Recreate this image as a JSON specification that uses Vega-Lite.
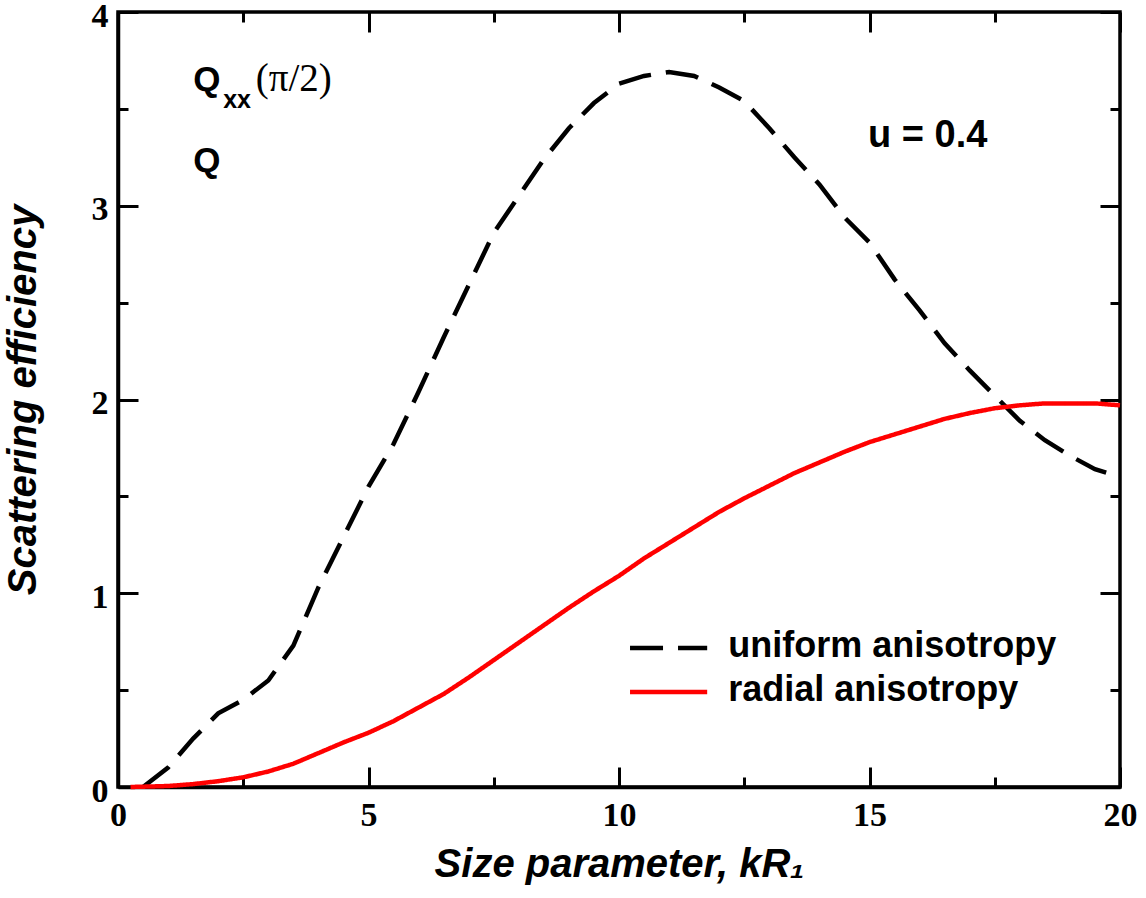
{
  "$schema": "https://vega.github.io/schema/vega-lite/v6.json",
  "width": 1002,
  "height": 775,
  "autosize": "none",
  "padding": {"left": 118, "top": 12, "right": 26, "bottom": 111},
  "background": "white",
  "config": {
    "view": {"stroke": "black", "strokeWidth": 3.5},
    "axis": {
      "grid": false,
      "domainColor": "black",
      "domainWidth": 3.5,
      "tickColor": "black",
      "tickWidth": 3,
      "labelFont": "Liberation Serif",
      "labelFontWeight": "bold",
      "labelFontSize": 34,
      "labelColor": "black",
      "titleFont": "Liberation Sans",
      "titleFontWeight": "bold",
      "titleFontStyle": "italic",
      "titleFontSize": 40,
      "titleColor": "black"
    }
  },
  "datasets": {
    "curves": [
      {"kR": 0.5, "Q": 0.0, "series": "uniform anisotropy"},
      {"kR": 1.0, "Q": 0.10, "series": "uniform anisotropy"},
      {"kR": 1.5, "Q": 0.25, "series": "uniform anisotropy"},
      {"kR": 2.0, "Q": 0.38, "series": "uniform anisotropy"},
      {"kR": 2.5, "Q": 0.45, "series": "uniform anisotropy"},
      {"kR": 3.0, "Q": 0.55, "series": "uniform anisotropy"},
      {"kR": 3.5, "Q": 0.73, "series": "uniform anisotropy"},
      {"kR": 4.0, "Q": 1.03, "series": "uniform anisotropy"},
      {"kR": 4.5, "Q": 1.29, "series": "uniform anisotropy"},
      {"kR": 5.0, "Q": 1.55, "series": "uniform anisotropy"},
      {"kR": 5.5, "Q": 1.77, "series": "uniform anisotropy"},
      {"kR": 6.0, "Q": 2.04, "series": "uniform anisotropy"},
      {"kR": 6.5, "Q": 2.32, "series": "uniform anisotropy"},
      {"kR": 7.0, "Q": 2.59, "series": "uniform anisotropy"},
      {"kR": 7.5, "Q": 2.86, "series": "uniform anisotropy"},
      {"kR": 8.0, "Q": 3.05, "series": "uniform anisotropy"},
      {"kR": 8.5, "Q": 3.24, "series": "uniform anisotropy"},
      {"kR": 9.0, "Q": 3.40, "series": "uniform anisotropy"},
      {"kR": 9.5, "Q": 3.53, "series": "uniform anisotropy"},
      {"kR": 10.0, "Q": 3.63, "series": "uniform anisotropy"},
      {"kR": 10.5, "Q": 3.67, "series": "uniform anisotropy"},
      {"kR": 11.0, "Q": 3.69, "series": "uniform anisotropy"},
      {"kR": 11.5, "Q": 3.67, "series": "uniform anisotropy"},
      {"kR": 12.0, "Q": 3.61, "series": "uniform anisotropy"},
      {"kR": 12.5, "Q": 3.54, "series": "uniform anisotropy"},
      {"kR": 13.0, "Q": 3.40, "series": "uniform anisotropy"},
      {"kR": 13.5, "Q": 3.25, "series": "uniform anisotropy"},
      {"kR": 14.0, "Q": 3.11, "series": "uniform anisotropy"},
      {"kR": 14.5, "Q": 2.94, "series": "uniform anisotropy"},
      {"kR": 15.0, "Q": 2.81, "series": "uniform anisotropy"},
      {"kR": 15.5, "Q": 2.62, "series": "uniform anisotropy"},
      {"kR": 16.0, "Q": 2.46, "series": "uniform anisotropy"},
      {"kR": 16.5, "Q": 2.29, "series": "uniform anisotropy"},
      {"kR": 17.0, "Q": 2.15, "series": "uniform anisotropy"},
      {"kR": 17.5, "Q": 2.02, "series": "uniform anisotropy"},
      {"kR": 18.0, "Q": 1.89, "series": "uniform anisotropy"},
      {"kR": 18.5, "Q": 1.79, "series": "uniform anisotropy"},
      {"kR": 19.0, "Q": 1.71, "series": "uniform anisotropy"},
      {"kR": 19.5, "Q": 1.64, "series": "uniform anisotropy"},
      {"kR": 20.0, "Q": 1.60, "series": "uniform anisotropy"},
      {"kR": 0.25, "Q": 0.0, "series": "radial anisotropy"},
      {"kR": 1.0, "Q": 0.005, "series": "radial anisotropy"},
      {"kR": 1.5, "Q": 0.015, "series": "radial anisotropy"},
      {"kR": 2.0, "Q": 0.03, "series": "radial anisotropy"},
      {"kR": 2.5, "Q": 0.05, "series": "radial anisotropy"},
      {"kR": 3.0, "Q": 0.08, "series": "radial anisotropy"},
      {"kR": 3.5, "Q": 0.12, "series": "radial anisotropy"},
      {"kR": 4.0, "Q": 0.175, "series": "radial anisotropy"},
      {"kR": 4.5, "Q": 0.23, "series": "radial anisotropy"},
      {"kR": 5.0, "Q": 0.28, "series": "radial anisotropy"},
      {"kR": 5.5, "Q": 0.34, "series": "radial anisotropy"},
      {"kR": 6.0, "Q": 0.41, "series": "radial anisotropy"},
      {"kR": 6.5, "Q": 0.48, "series": "radial anisotropy"},
      {"kR": 7.0, "Q": 0.565, "series": "radial anisotropy"},
      {"kR": 7.5, "Q": 0.655, "series": "radial anisotropy"},
      {"kR": 8.0, "Q": 0.745, "series": "radial anisotropy"},
      {"kR": 8.5, "Q": 0.835, "series": "radial anisotropy"},
      {"kR": 9.0, "Q": 0.925, "series": "radial anisotropy"},
      {"kR": 9.5, "Q": 1.01, "series": "radial anisotropy"},
      {"kR": 10.0, "Q": 1.09, "series": "radial anisotropy"},
      {"kR": 10.5, "Q": 1.18, "series": "radial anisotropy"},
      {"kR": 11.0, "Q": 1.26, "series": "radial anisotropy"},
      {"kR": 11.5, "Q": 1.34, "series": "radial anisotropy"},
      {"kR": 12.0, "Q": 1.42, "series": "radial anisotropy"},
      {"kR": 12.5, "Q": 1.49, "series": "radial anisotropy"},
      {"kR": 13.0, "Q": 1.555, "series": "radial anisotropy"},
      {"kR": 13.5, "Q": 1.62, "series": "radial anisotropy"},
      {"kR": 14.0, "Q": 1.675, "series": "radial anisotropy"},
      {"kR": 14.5, "Q": 1.73, "series": "radial anisotropy"},
      {"kR": 15.0, "Q": 1.78, "series": "radial anisotropy"},
      {"kR": 15.5, "Q": 1.82, "series": "radial anisotropy"},
      {"kR": 16.0, "Q": 1.86, "series": "radial anisotropy"},
      {"kR": 16.5, "Q": 1.90, "series": "radial anisotropy"},
      {"kR": 17.0, "Q": 1.93, "series": "radial anisotropy"},
      {"kR": 17.5, "Q": 1.955, "series": "radial anisotropy"},
      {"kR": 18.0, "Q": 1.97, "series": "radial anisotropy"},
      {"kR": 18.5, "Q": 1.98, "series": "radial anisotropy"},
      {"kR": 19.0, "Q": 1.98, "series": "radial anisotropy"},
      {"kR": 19.5, "Q": 1.98, "series": "radial anisotropy"},
      {"kR": 20.0, "Q": 1.97, "series": "radial anisotropy"}
    ]
  },
  "layer": [
    {
      "data": {"name": "curves"},
      "mark": {"type": "line", "strokeWidth": 4.5},
      "encoding": {
        "x": {
          "field": "kR", "type": "quantitative",
          "scale": {"domain": [0, 20], "nice": false, "zero": false},
          "axis": {
            "orient": "bottom",
            "title": "Size parameter, kR₁",
            "values": [0, 2.5, 5, 7.5, 10, 12.5, 15, 17.5, 20],
            "labelExpr": "datum.value % 5 === 0 ? format(datum.value, 'd') : ''",
            "tickSize": {"condition": {"test": "datum.value % 5 === 0", "value": -20}, "value": -10},
            "labelPadding": 31,
            "labelFlush": false,
            "labelOverlap": false,
            "titlePadding": 2
          }
        },
        "y": {
          "field": "Q", "type": "quantitative",
          "scale": {"domain": [0, 4], "nice": false},
          "axis": {
            "orient": "left",
            "title": "Scattering efficiency",
            "values": [0, 0.5, 1, 1.5, 2, 2.5, 3, 3.5, 4],
            "labelExpr": "datum.value % 1 === 0 ? format(datum.value, 'd') : ''",
            "tickSize": {"condition": {"test": "datum.value % 1 === 0", "value": -20}, "value": -10},
            "labelPadding": 30,
            "labelOffset": 4,
            "labelFlush": false,
            "labelOverlap": false,
            "titlePadding": 48
          }
        },
        "color": {
          "field": "series", "type": "nominal",
          "scale": {"domain": ["uniform anisotropy", "radial anisotropy"], "range": ["black", "#ff0000"]},
          "legend": null
        },
        "strokeDash": {
          "field": "series", "type": "nominal",
          "scale": {"domain": ["uniform anisotropy", "radial anisotropy"], "range": [[33, 15], [1, 0]]},
          "legend": null
        }
      }
    },
    {
      "data": {"values": [{"label": "Q"}]},
      "mark": {"type": "text", "font": "Liberation Sans", "fontWeight": "bold", "fontSize": 35, "align": "left", "baseline": "alphabetic", "color": "black"},
      "encoding": {
        "x": {
          "datum": 1.5, "type": "quantitative",
          "axis": {
            "orient": "top", "title": null, "labels": false, "domain": false,
            "values": [0, 2.5, 5, 7.5, 10, 12.5, 15, 17.5, 20],
            "tickSize": {"condition": {"test": "datum.value % 5 === 0", "value": -20}, "value": -10}
          }
        },
        "y": {
          "datum": 3.593, "type": "quantitative",
          "axis": {
            "orient": "right", "title": null, "labels": false, "domain": false,
            "values": [0, 0.5, 1, 1.5, 2, 2.5, 3, 3.5, 4],
            "tickSize": {"condition": {"test": "datum.value % 1 === 0", "value": -20}, "value": -10}
          }
        },
        "text": {"field": "label"}
      }
    },
    {
      "data": {"values": [{"label": "xx"}]},
      "mark": {"type": "text", "font": "Liberation Sans", "fontWeight": "bold", "fontSize": 25, "align": "left", "baseline": "alphabetic", "color": "black"},
      "encoding": {
        "x": {"datum": 2.1, "type": "quantitative", "axis": null},
        "y": {"datum": 3.505, "type": "quantitative", "axis": null},
        "text": {"field": "label"}
      }
    },
    {
      "data": {"values": [{"label": "(π/2)"}]},
      "mark": {"type": "text", "font": "Liberation Serif", "fontSize": 39, "align": "left", "baseline": "alphabetic", "color": "black"},
      "encoding": {
        "x": {"datum": 2.75, "type": "quantitative", "axis": null},
        "y": {"datum": 3.59, "type": "quantitative", "axis": null},
        "text": {"field": "label"}
      }
    },
    {
      "data": {"values": [{"label": "Q"}]},
      "mark": {"type": "text", "font": "Liberation Sans", "fontWeight": "bold", "fontSize": 35, "align": "left", "baseline": "alphabetic", "color": "black"},
      "encoding": {
        "x": {"datum": 1.5, "type": "quantitative", "axis": null},
        "y": {"datum": 3.175, "type": "quantitative", "axis": null},
        "text": {"field": "label"}
      }
    },
    {
      "data": {"values": [{"label": "u = 0.4"}]},
      "mark": {"type": "text", "font": "Liberation Sans", "fontWeight": "bold", "fontSize": 38, "align": "left", "baseline": "alphabetic", "color": "black"},
      "encoding": {
        "x": {"datum": 14.97, "type": "quantitative", "axis": null},
        "y": {"datum": 3.304, "type": "quantitative", "axis": null},
        "text": {"field": "label"}
      }
    },
    {
      "data": {"values": [{"series": "uniform anisotropy"}]},
      "mark": {"type": "rule", "strokeWidth": 4.5, "color": "black", "strokeDash": [33, 15]},
      "encoding": {
        "x": {"datum": 10.22, "type": "quantitative", "axis": null},
        "x2": {"datum": 11.76},
        "y": {"datum": 0.718, "type": "quantitative", "axis": null}
      }
    },
    {
      "data": {"values": [{"series": "radial anisotropy"}]},
      "mark": {"type": "rule", "strokeWidth": 4.5, "color": "#ff0000"},
      "encoding": {
        "x": {"datum": 10.22, "type": "quantitative", "axis": null},
        "x2": {"datum": 11.76},
        "y": {"datum": 0.49, "type": "quantitative", "axis": null}
      }
    },
    {
      "data": {"values": [{"series": "uniform anisotropy"}]},
      "mark": {"type": "text", "font": "Liberation Sans", "fontWeight": "bold", "fontSize": 36, "align": "left", "baseline": "alphabetic", "color": "black"},
      "encoding": {
        "x": {"datum": 12.18, "type": "quantitative", "axis": null},
        "y": {"datum": 0.671, "type": "quantitative", "axis": null},
        "text": {"field": "series"}
      }
    },
    {
      "data": {"values": [{"series": "radial anisotropy"}]},
      "mark": {"type": "text", "font": "Liberation Sans", "fontWeight": "bold", "fontSize": 36, "align": "left", "baseline": "alphabetic", "color": "black"},
      "encoding": {
        "x": {"datum": 12.18, "type": "quantitative", "axis": null},
        "y": {"datum": 0.444, "type": "quantitative", "axis": null},
        "text": {"field": "series"}
      }
    }
  ],
  "resolve": {"axis": {"x": "independent", "y": "independent"}}
}
